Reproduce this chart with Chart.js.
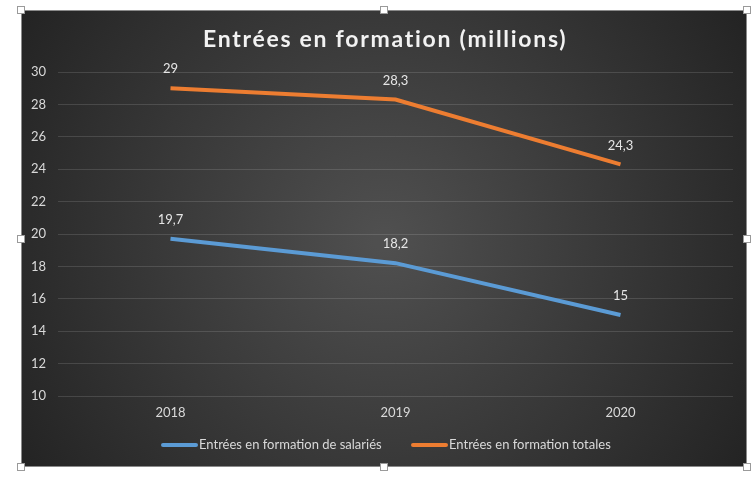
<!DOCTYPE html>
<html>
<head>
<meta charset="utf-8">
<script src="https://cdn.jsdelivr.net/npm/chart.js@4"></script>
<style>
  html, body { margin: 0; padding: 0; background: #fff; }
  canvas { display: block; }
</style>
</head>
<body>
<canvas id="chart" width="756" height="480"></canvas>
<script>
// data
const years = ['2018', '2019', '2020'];
const salaries = [19.7, 18.2, 15];
const totales = [29, 28.3, 24.3];
const seriesNames = ['Entrées en formation de salariés', 'Entrées en formation totales'];
const titleText = 'Entrées en formation (millions)';

const FONT = 'Lato, "Open Sans", sans-serif';
const BLUE = '#5B9BD5';
const ORANGE = '#ED7D31';
const frame = { x: 21, y: 10, w: 726, h: 457 };

const fmt = v => String(v).replace('.', ',');

// background frame + selection handles + title + legend
const decor = {
  id: 'decor',
  beforeDraw(chart) {
    const ctx = chart.ctx;
    ctx.save();
    const g = ctx.createRadialGradient(384, 240, 10, 384, 240, 430);
    g.addColorStop(0, '#4f4f4f');
    g.addColorStop(1, '#232323');
    ctx.fillStyle = g;
    ctx.fillRect(frame.x, frame.y, frame.w, frame.h);
    ctx.strokeStyle = '#8a8a8a';
    ctx.lineWidth = 1;
    ctx.strokeRect(frame.x + 0.5, frame.y + 0.5, frame.w - 1, frame.h - 1);
    ctx.restore();
  },
  afterDraw(chart) {
    const ctx = chart.ctx;
    ctx.save();
    // title
    ctx.font = 'bold 23px ' + FONT;
    ctx.fillStyle = '#f2f2f2';
    ctx.textBaseline = 'middle';
    const w = ctx.measureText(titleText).width;
    const sp = Math.max(0, (363 - w) / (titleText.length - 1));
    ctx.letterSpacing = sp + 'px';
    ctx.textAlign = 'left';
    ctx.fillText(titleText, 203, 40);
    ctx.letterSpacing = '0px';

    // legend
    ctx.font = '13px ' + FONT;
    ctx.fillStyle = '#d9d9d9';
    ctx.lineWidth = 4;
    ctx.lineCap = 'round';
    const items = [[BLUE, 163, seriesNames[0]], [ORANGE, 413, seriesNames[1]]];
    items.forEach(([c, x, t]) => {
      ctx.strokeStyle = c;
      ctx.beginPath();
      ctx.moveTo(x, 445);
      ctx.lineTo(x + 33, 445);
      ctx.stroke();
      ctx.fillText(t, x + 36, 445);
    });

    // selection handles
    const hs = [
      [frame.x, frame.y], [frame.x + frame.w / 2, frame.y], [frame.x + frame.w, frame.y],
      [frame.x, frame.y + frame.h / 2], [frame.x + frame.w, frame.y + frame.h / 2],
      [frame.x, frame.y + frame.h], [frame.x + frame.w / 2, frame.y + frame.h], [frame.x + frame.w, frame.y + frame.h]
    ];
    ctx.lineWidth = 1;
    ctx.strokeStyle = '#9a9a9a';
    ctx.fillStyle = '#ffffff';
    hs.forEach(([x, y]) => {
      ctx.fillRect(Math.round(x) - 3.5, Math.round(y) - 3.5, 7, 7);
      ctx.strokeRect(Math.round(x) - 3.5, Math.round(y) - 3.5, 7, 7);
    });
    ctx.restore();
  }
};

// value labels above points
const valueLabels = {
  id: 'valueLabels',
  afterDatasetsDraw(chart) {
    const ctx = chart.ctx;
    ctx.save();
    ctx.font = '13px ' + FONT;
    ctx.fillStyle = '#e6e6e6';
    ctx.textAlign = 'center';
    ctx.textBaseline = 'middle';
    chart.data.datasets.forEach((ds, i) => {
      chart.getDatasetMeta(i).data.forEach((pt, j) => {
        ctx.fillText(fmt(ds.data[j]), pt.x, pt.y - 19);
      });
    });
    ctx.restore();
  }
};

new Chart(document.getElementById('chart'), {
  type: 'line',
  data: {
    labels: years,
    datasets: [
      { label: seriesNames[0], data: salaries, borderColor: BLUE, backgroundColor: BLUE, borderWidth: 4, pointRadius: 0, tension: 0 },
      { label: seriesNames[1], data: totales, borderColor: ORANGE, backgroundColor: ORANGE, borderWidth: 4, pointRadius: 0, tension: 0 }
    ]
  },
  options: {
    responsive: false,
    animation: false,
    layout: { padding: { left: 28, right: 23, top: 72, bottom: 44 } },
    plugins: { legend: { display: false }, title: { display: false }, tooltip: { enabled: false } },
    scales: {
      x: {
        offset: true,
        grid: { display: false, drawTicks: false },
        border: { display: false },
        ticks: { color: '#d9d9d9', font: { family: FONT, size: 13 }, padding: 9 },
        afterFit(s) { s.height = 40; }
      },
      y: {
        min: 10, max: 30,
        ticks: { stepSize: 2, color: '#d9d9d9', font: { family: FONT, size: 13 }, padding: 12 },
        grid: { color: 'rgba(255,255,255,0.13)', lineWidth: 1, drawTicks: false },
        border: { display: false },
        afterFit(s) { s.width = 30; }
      }
    }
  },
  plugins: [decor, valueLabels]
});
</script>
</body>
</html>
